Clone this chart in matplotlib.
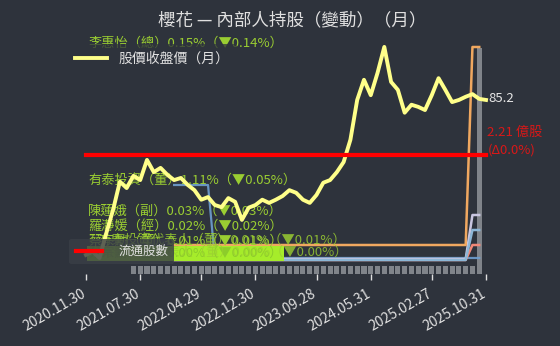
import matplotlib
matplotlib.use("Agg")
import matplotlib.pyplot as plt
import matplotlib.transforms as mtransforms
from matplotlib.lines import Line2D

plt.rcParams['font.family'] = ['Noto Sans CJK TC', 'DejaVu Sans']

BG = '#2e333c'

# ---------------- data ----------------
tick_idx = [0, 8, 17, 25, 34, 42, 51, 59]
tick_labels = ['2020.11.30', '2021.07.30', '2022.04.29', '2022.12.30',
               '2023.09.28', '2024.05.31', '2025.02.27', '2025.10.31']

# monthly close price (60 months)
price = [56.0, 56.6, 55.4, 60.1, 64.5, 69.8, 68.6, 70.9, 70.1, 73.9,
         71.6, 72.4, 71.1, 70.1, 70.5, 69.2, 68.2, 66.4, 66.9, 65.4,
         65.0, 66.7, 66.0, 62.6, 64.9, 65.4, 66.4, 65.8, 66.4, 67.1,
         68.2, 67.7, 66.4, 65.8, 67.3, 69.6, 70.1, 71.6, 73.5, 77.7,
         85.2, 89.0, 86.1, 90.3, 95.2, 88.6, 87.1, 82.8, 84.3, 83.9,
         83.3, 86.1, 89.3, 87.1, 84.8, 85.2, 85.8, 86.3, 85.4, 85.2]

# float shares (億股), constant
float_shares = [2.21] * 60

# gray bars (months 7..58)
bar_start = 7
bar_vals = [0.08] * 51 + [2.26]

# insider holding lines (months 13..58)
ins_start = 13
li_huiyi = [0.29] * 44 + [2.27, 2.27]
youtai = [0.89] * 6 + [0.16] * 38 + [0.16, 0.16]
chen = [0.15] * 44 + [0.59, 0.59]
luo = [0.14] * 44 + [0.44, 0.44]
salmon = [0.14] * 44 + [0.29, 0.29]

labels = [
    ('李惠怡（總）0.15%（▼0.14%）', max(li_huiyi)),
    ('有泰投資（董）1.11%（▼0.05%）', max(youtai)),
    ('陳蓮娥（副）0.03%（▼0.03%）', max(chen)),
    ('羅瀞媛（經）0.02%（▼0.02%）', max(luo)),
    ('蔡宗勳（董）0.01%（▼0.01%）', max(salmon)),
]

# ---------------- figure ----------------
fig = plt.figure(figsize=(5.6, 3.46), dpi=100, facecolor=BG)
ax = fig.add_axes([0.1414, 0.2081, 0.7386, 0.6763])
ax.set_facecolor(BG)
ax_p = ax.twinx()
ax_f = ax.twinx()
for a in (ax, ax_p, ax_f):
    for s in a.spines.values():
        s.set_visible(False)
    a.set_yticks([])
ax_p.patch.set_visible(False)
ax_f.patch.set_visible(False)

ax.set_xlim(-1, 60)
ax.set_ylim(0, 2.34)
ax_p.set_ylim(52.4, 96.5)
ax_f.set_ylim(0, 4.346)

# bars
bx = [bar_start + i for i in range(len(bar_vals))]
ax.bar(bx, bar_vals, width=0.75, color='#80848a', zorder=1)

# insider lines
ix = [ins_start + i for i in range(len(li_huiyi))]
ax.plot(ix, youtai, color='#6f9fd0', lw=1.6, alpha=0.9, zorder=2)
ax.plot(ix, salmon, color='#f08878', lw=1.8, zorder=2)
ax.plot(ix, chen, color='#c9c6e0', lw=1.8, zorder=2)
ax.plot(ix, luo, color='#8cb6d6', lw=1.8, zorder=2)
ax.plot(ix, li_huiyi, color='#f0a860', lw=1.8, zorder=3)

for txt, yv in labels:
    ax.text(0.3, yv, txt, color='#9acd32', fontsize=9.5, va='baseline', ha='left', zorder=4)
ax.text(1.8, max(salmon), '有泰投資代表人（董）0.01%（▼0.01%）', color='#9acd32', fontsize=9.5,
        va='baseline', ha='left', zorder=4, alpha=0.85)
ax.text(0.3, 0.17, '蔡宗勳（董）0.00%（▼0.00%）', color='#8ccd2a', fontsize=9.5,
        va='baseline', ha='left', zorder=4,
        bbox=dict(boxstyle='square,pad=0.08', facecolor='#a6ec2a', edgecolor='none'))
ax.text(2.2, 0.17, '有泰投資代表人（董）0.00%（▼0.00%）', color='#9acd32', fontsize=9.5,
        va='baseline', ha='left', zorder=4, alpha=0.8)

# price
pl, = ax_p.plot(range(len(price)), price, color='#ffff8a', lw=2.8, zorder=5)
ax_p.text(59.3, price[-1] + 0.3, f'{price[-1]}', color='#e6e6e6', fontsize=9.5,
          va='center', ha='left')

# float shares
fl, = ax_f.plot(range(len(float_shares)), float_shares, color='#ff0000', lw=3,
                solid_capstyle='projecting')
ax_f.text(59.2, float_shares[-1] - 0.03, f'{float_shares[-1]} 億股\n(Δ0.0%)', color='#d81818',
          fontsize=9.5, va='bottom', ha='left', linespacing=1.45)

# x ticks
ax.set_xticks(tick_idx)
ax.set_xticklabels(tick_labels, rotation=30, ha='right', rotation_mode='anchor',
                   fontsize=10, color='#e0e0e0')
ax.tick_params(axis='x', colors='#e0e0e0', length=4, width=1, pad=3)
off = mtransforms.ScaledTranslation(-5 / 100, -3 / 100, fig.dpi_scale_trans)
for lab in ax.get_xticklabels():
    lab.set_transform(lab.get_transform() + off)

# legends
leg1 = ax_f.legend([pl], ['股價收盤價（月）'], loc='upper left',
                   bbox_to_anchor=(0.121, 0.872), bbox_transform=fig.transFigure,
                   fontsize=10, frameon=True, facecolor=BG, edgecolor='none',
                   framealpha=0.75, handlelength=2.3, handletextpad=0.8,
                   labelcolor='#e0e0e0', borderpad=0.55, borderaxespad=0)
ax_f.add_artist(leg1)
leg2 = ax_f.legend([Line2D([], [], color='#ff0000', lw=3)], ['流通股數'], loc='upper left',
                   bbox_to_anchor=(0.124, 0.31), bbox_transform=fig.transFigure,
                   fontsize=9, frameon=True, facecolor='#3a3f47', edgecolor='none',
                   framealpha=0.82, handlelength=2.1, handletextpad=1.3,
                   labelcolor='#e0e0e0', borderpad=0.5, borderaxespad=0)

fig.text(0.522, 1 - 20 / 346, '櫻花 — 內部人持股（變動）（月）', color='#e0e0e0',
         fontsize=12.6, ha='center', va='center')

fig.savefig('out.png', dpi=100, facecolor=BG)
